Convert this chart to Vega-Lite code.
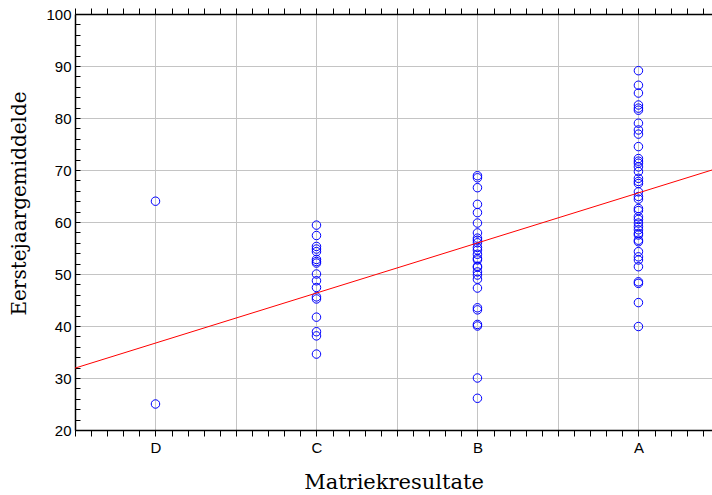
{
  "$schema": "https://vega.github.io/schema/vega-lite/v6.json",
  "autosize": "none",
  "width": 637,
  "height": 416,
  "padding": {"left": 75, "top": 14, "right": 0, "bottom": 65},
  "background": "white",
  "config": {
    "view": {"stroke": null},
    "axis": {"labelFont": "Liberation Sans", "labelFontSize": 15, "labelColor": "#000", "titleFont": "DejaVu Serif", "titleFontSize": 20, "titleFontWeight": "normal", "titleColor": "#000", "gridColor": "#c4c4c4", "gridWidth": 1, "domainColor": "#000", "domainWidth": 1.5, "tickColor": "#000", "tickWidth": 1}
  },
  "datasets": {
    "pts": [
      {"kode": 1, "matriek": "D", "gemiddelde": 64.0},
      {"kode": 1, "matriek": "D", "gemiddelde": 25.0},
      {"kode": 2, "matriek": "C", "gemiddelde": 59.4},
      {"kode": 2, "matriek": "C", "gemiddelde": 57.4},
      {"kode": 2, "matriek": "C", "gemiddelde": 55.3},
      {"kode": 2, "matriek": "C", "gemiddelde": 54.8},
      {"kode": 2, "matriek": "C", "gemiddelde": 54.3},
      {"kode": 2, "matriek": "C", "gemiddelde": 52.8},
      {"kode": 2, "matriek": "C", "gemiddelde": 52.4},
      {"kode": 2, "matriek": "C", "gemiddelde": 52.1},
      {"kode": 2, "matriek": "C", "gemiddelde": 50.0},
      {"kode": 2, "matriek": "C", "gemiddelde": 48.7},
      {"kode": 2, "matriek": "C", "gemiddelde": 47.4},
      {"kode": 2, "matriek": "C", "gemiddelde": 45.6},
      {"kode": 2, "matriek": "C", "gemiddelde": 45.2},
      {"kode": 2, "matriek": "C", "gemiddelde": 41.7},
      {"kode": 2, "matriek": "C", "gemiddelde": 38.9},
      {"kode": 2, "matriek": "C", "gemiddelde": 38.1},
      {"kode": 2, "matriek": "C", "gemiddelde": 34.6},
      {"kode": 3, "matriek": "B", "gemiddelde": 68.9},
      {"kode": 3, "matriek": "B", "gemiddelde": 68.5},
      {"kode": 3, "matriek": "B", "gemiddelde": 66.6},
      {"kode": 3, "matriek": "B", "gemiddelde": 63.4},
      {"kode": 3, "matriek": "B", "gemiddelde": 61.8},
      {"kode": 3, "matriek": "B", "gemiddelde": 59.8},
      {"kode": 3, "matriek": "B", "gemiddelde": 57.9},
      {"kode": 3, "matriek": "B", "gemiddelde": 56.9},
      {"kode": 3, "matriek": "B", "gemiddelde": 56.5},
      {"kode": 3, "matriek": "B", "gemiddelde": 56.0},
      {"kode": 3, "matriek": "B", "gemiddelde": 55.1},
      {"kode": 3, "matriek": "B", "gemiddelde": 54.6},
      {"kode": 3, "matriek": "B", "gemiddelde": 53.8},
      {"kode": 3, "matriek": "B", "gemiddelde": 53.0},
      {"kode": 3, "matriek": "B", "gemiddelde": 52.7},
      {"kode": 3, "matriek": "B", "gemiddelde": 51.5},
      {"kode": 3, "matriek": "B", "gemiddelde": 51.3},
      {"kode": 3, "matriek": "B", "gemiddelde": 50.4},
      {"kode": 3, "matriek": "B", "gemiddelde": 49.8},
      {"kode": 3, "matriek": "B", "gemiddelde": 49.0},
      {"kode": 3, "matriek": "B", "gemiddelde": 47.3},
      {"kode": 3, "matriek": "B", "gemiddelde": 43.5},
      {"kode": 3, "matriek": "B", "gemiddelde": 43.1},
      {"kode": 3, "matriek": "B", "gemiddelde": 40.3},
      {"kode": 3, "matriek": "B", "gemiddelde": 40.0},
      {"kode": 3, "matriek": "B", "gemiddelde": 30.0},
      {"kode": 3, "matriek": "B", "gemiddelde": 26.1},
      {"kode": 4, "matriek": "A", "gemiddelde": 89.1},
      {"kode": 4, "matriek": "A", "gemiddelde": 86.3},
      {"kode": 4, "matriek": "A", "gemiddelde": 84.8},
      {"kode": 4, "matriek": "A", "gemiddelde": 82.5},
      {"kode": 4, "matriek": "A", "gemiddelde": 81.9},
      {"kode": 4, "matriek": "A", "gemiddelde": 81.5},
      {"kode": 4, "matriek": "A", "gemiddelde": 79.0},
      {"kode": 4, "matriek": "A", "gemiddelde": 77.7},
      {"kode": 4, "matriek": "A", "gemiddelde": 76.9},
      {"kode": 4, "matriek": "A", "gemiddelde": 74.5},
      {"kode": 4, "matriek": "A", "gemiddelde": 72.2},
      {"kode": 4, "matriek": "A", "gemiddelde": 71.7},
      {"kode": 4, "matriek": "A", "gemiddelde": 71.3},
      {"kode": 4, "matriek": "A", "gemiddelde": 70.6},
      {"kode": 4, "matriek": "A", "gemiddelde": 69.7},
      {"kode": 4, "matriek": "A", "gemiddelde": 68.4},
      {"kode": 4, "matriek": "A", "gemiddelde": 67.8},
      {"kode": 4, "matriek": "A", "gemiddelde": 67.4},
      {"kode": 4, "matriek": "A", "gemiddelde": 65.8},
      {"kode": 4, "matriek": "A", "gemiddelde": 64.9},
      {"kode": 4, "matriek": "A", "gemiddelde": 64.4},
      {"kode": 4, "matriek": "A", "gemiddelde": 62.6},
      {"kode": 4, "matriek": "A", "gemiddelde": 62.2},
      {"kode": 4, "matriek": "A", "gemiddelde": 61.0},
      {"kode": 4, "matriek": "A", "gemiddelde": 60.5},
      {"kode": 4, "matriek": "A", "gemiddelde": 59.8},
      {"kode": 4, "matriek": "A", "gemiddelde": 59.1},
      {"kode": 4, "matriek": "A", "gemiddelde": 58.5},
      {"kode": 4, "matriek": "A", "gemiddelde": 57.8},
      {"kode": 4, "matriek": "A", "gemiddelde": 57.5},
      {"kode": 4, "matriek": "A", "gemiddelde": 56.5},
      {"kode": 4, "matriek": "A", "gemiddelde": 56.2},
      {"kode": 4, "matriek": "A", "gemiddelde": 54.3},
      {"kode": 4, "matriek": "A", "gemiddelde": 53.3},
      {"kode": 4, "matriek": "A", "gemiddelde": 52.7},
      {"kode": 4, "matriek": "A", "gemiddelde": 51.4},
      {"kode": 4, "matriek": "A", "gemiddelde": 48.5},
      {"kode": 4, "matriek": "A", "gemiddelde": 48.2},
      {"kode": 4, "matriek": "A", "gemiddelde": 44.5},
      {"kode": 4, "matriek": "A", "gemiddelde": 39.9}
    ],
    "fit": [
      {"kode": 0.5, "gemiddelde": 31.9},
      {"kode": 4.457, "gemiddelde": 70.0}
    ]
  },
  "layer": [
    {
      "data": {"name": "pts"},
      "mark": {"type": "point", "shape": "circle", "filled": false, "stroke": "#0000ff", "strokeWidth": 1, "size": 72, "opacity": 1},
      "encoding": {
        "x": {
          "field": "kode", "type": "quantitative",
          "scale": {"domain": [0.5, 4.457], "nice": false, "zero": false},
          "axis": {
            "orient": "bottom", "title": "Matriekresultate", "titlePadding": 16, "titleFontSize": 21,
            "values": [0.5,0.6,0.7,0.8,0.9,1,1.1,1.2,1.3,1.4,1.5,1.6,1.7,1.8,1.9,2,2.1,2.2,2.3,2.4,2.5,2.6,2.7,2.8,2.9,3,3.1,3.2,3.3,3.4,3.5,3.6,3.7,3.8,3.9,4,4.1,4.2,4.3,4.4],
            "labelExpr": "abs(datum.value-1)<0.01 ? 'D' : abs(datum.value-2)<0.01 ? 'C' : abs(datum.value-3)<0.01 ? 'B' : abs(datum.value-4)<0.01 ? 'A' : ''",
            "labelPadding": 4, "labelFlush": false, "labelOverlap": false,
            "grid": true,
            "gridOpacity": {"condition": {"test": "abs(datum.value*2 - round(datum.value*2)) < 0.01", "value": 1}, "value": 0},
            "ticks": true, "tickSize": 6,
            "encode": {"ticks": {"update": {"y": {"value": 0}, "y2": {"signal": "abs(datum.value*2 - round(datum.value*2)) < 0.01 ? -6 : -4"}}}}
          }
        },
        "y": {
          "field": "gemiddelde", "type": "quantitative",
          "scale": {"domain": [20, 100], "nice": false, "zero": false},
          "axis": {
            "orient": "left", "title": "Eerstejaargemiddelde", "titlePadding": 16, "titleY": 189,
            "values": [20,22,24,26,28,30,32,34,36,38,40,42,44,46,48,50,52,54,56,58,60,62,64,66,68,70,72,74,76,78,80,82,84,86,88,90,92,94,96,98,100],
            "labelExpr": "abs(datum.value/10 - round(datum.value/10)) < 0.01 ? format(datum.value, 'd') : ''",
            "labelPadding": 9, "labelOverlap": false, "labelFlush": false, "labelBound": false,
            "grid": true,
            "gridOpacity": {"condition": {"test": "abs(datum.value/10 - round(datum.value/10)) < 0.01", "value": 1}, "value": 0},
            "ticks": true, "tickSize": -5
          }
        }
      }
    },
    {
      "data": {"name": "fit"},
      "mark": {"type": "line", "color": "#ff0000", "strokeWidth": 1, "clip": true},
      "encoding": {
        "x": {
          "field": "kode", "type": "quantitative",
          "scale": {"domain": [0.5, 4.457], "nice": false, "zero": false},
          "axis": {
            "orient": "top", "title": null, "labels": false, "grid": false,
            "values": [0.5,0.6,0.7,0.8,0.9,1,1.1,1.2,1.3,1.4,1.5,1.6,1.7,1.8,1.9,2,2.1,2.2,2.3,2.4,2.5,2.6,2.7,2.8,2.9,3,3.1,3.2,3.3,3.4,3.5,3.6,3.7,3.8,3.9,4,4.1,4.2,4.3,4.4],
            "ticks": true, "tickSize": 6,
            "encode": {"ticks": {"update": {"y": {"value": 0}, "y2": {"signal": "abs(datum.value*2 - round(datum.value*2)) < 0.01 ? 6 : 4"}}}}
          }
        },
        "y": {
          "field": "gemiddelde", "type": "quantitative",
          "scale": {"domain": [20, 100], "nice": false, "zero": false},
          "axis": {
            "orient": "left", "title": "Eerstejaargemiddelde", "titlePadding": 16, "titleY": 189,
            "values": [20,22,24,26,28,30,32,34,36,38,40,42,44,46,48,50,52,54,56,58,60,62,64,66,68,70,72,74,76,78,80,82,84,86,88,90,92,94,96,98,100],
            "labelExpr": "abs(datum.value/10 - round(datum.value/10)) < 0.01 ? format(datum.value, 'd') : ''",
            "labelPadding": 9, "labelOverlap": false, "labelFlush": false, "labelBound": false,
            "grid": true,
            "gridOpacity": {"condition": {"test": "abs(datum.value/10 - round(datum.value/10)) < 0.01", "value": 1}, "value": 0},
            "ticks": true, "tickSize": -5
          }
        }
      }
    }
  ]
}
